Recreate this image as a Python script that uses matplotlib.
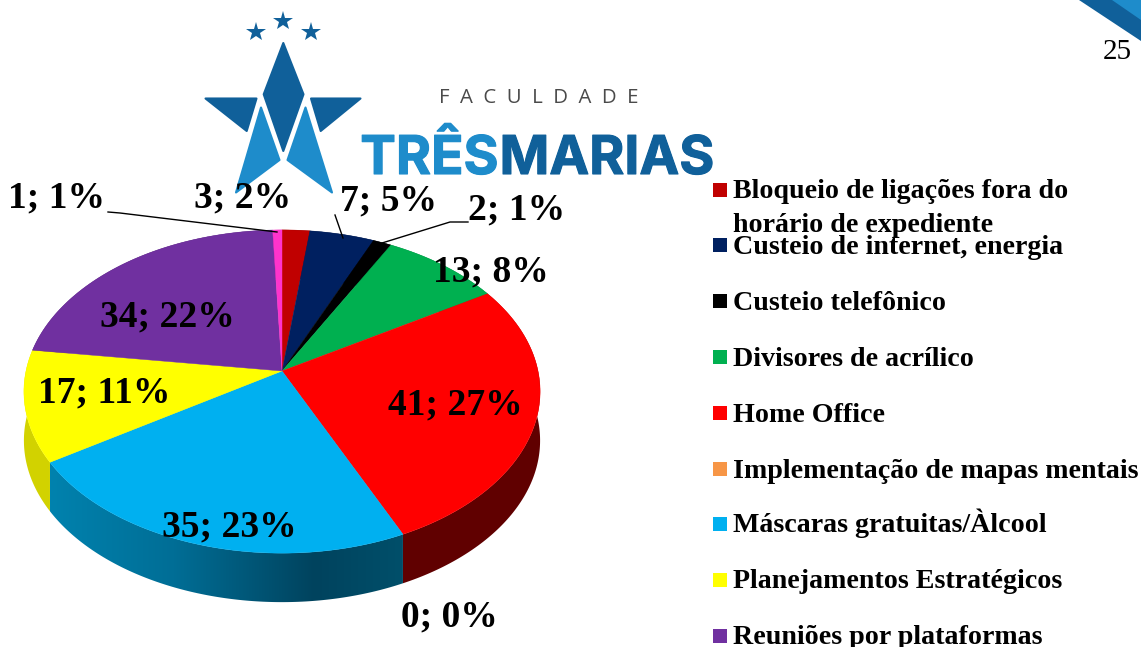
#!/usr/bin/env python
# -*- coding: utf-8 -*-

import numpy as np
import matplotlib
matplotlib.use("Agg")
import matplotlib.pyplot as plt
import matplotlib.patheffects as pe
from matplotlib.colors import LinearSegmentedColormap
from matplotlib.patches import Polygon

categories = ["Bloqueio de ligações fora do\nhorário de expediente", "Custeio de internet, energia",
	"Custeio telefônico", "Divisores de acrílico", "Home Office", "Implementação de mapas mentais",
	"Máscaras gratuitas/Àlcool", "Planejamentos Estratégicos", "Reuniões por plataformas", "Outros"]
values = [3, 7, 2, 13, 41, 0, 35, 17, 34, 1]
percents = [2, 5, 1, 8, 27, 0, 23, 11, 22, 1]
colors = ["#C00000", "#002060", "#000000", "#00B050", "#FF0000", "#F79646", "#00B0F0", "#FFFF00", "#7030A0", "#FF33CC"]
wall_colors = ["#600000", "#001030", "#000000", "#005828", "#600000", "#7B4B23", "#006080", "#D2D200", "#381850", "#801966"]

label_x = [243, 388, 517, 491, 455, 449, 229, 104, 167, 57]
label_y = [198, 201, 210, 272, 405, 617, 527, 393, 317, 198]
legend_y = [190, 245, 301, 357, 413, 469, 524, 580, 636]

CX, CY = 282, 371
RX, RY, K = 256, 159, 0.127
DEPTH = 49


def rim(theta):
	# clockwise from top, tilted circle with some perspective
	u = np.sin(theta)
	v = -np.cos(theta)
	s = 1 / (1 - K * v)
	return CX + RX * u * s, CY + RY * v * s


def draw_logo(ax):
	dark = "#10609A"
	light = "#1E8CCB"
	shapes = [
		([(283.3, 43), (303.5, 94.3), (283.3, 151), (263.7, 94.3)], dark),
		([(205.5, 98.5), (256.5, 98.5), (246.7, 131)], dark),
		([(311, 98.5), (360.5, 98.5), (320.7, 131)], dark),
		([(261, 107.5), (279.5, 160), (236, 192.5)], light),
		([(305.5, 107.5), (287.5, 160), (332, 192.5)], light),
	]
	for pts, col in shapes:
		ax.add_patch(Polygon(pts, fc=col, ec=col, lw=1.5, joinstyle="round", zorder=1))
	for x, y in [(256, 31.5), (283.3, 21), (310.7, 31.5)]:
		ax.plot(x, y, marker="*", ms=15, color=dark, mew=0, zorder=1)
	ax.text(538.5, 98, "F  A  C  U  L  D  A  D  E", family="Open Sans", fontsize=14.7, color="#4A4A4A", ha="center", va="center", zorder=1)
	stroke = [pe.withStroke(linewidth=0.8, foreground=light)]
	ax.text(498.5, 174, "TRÊS", family="Inter", weight="bold", fontsize=38.5, color=light, ha="right", va="baseline", zorder=1, path_effects=stroke)
	stroke = [pe.withStroke(linewidth=0.8, foreground=dark)]
	ax.text(499.5, 174, "MARIAS", family="Inter", weight="bold", fontsize=38.5, color=dark, ha="left", va="baseline", zorder=1, path_effects=stroke)
	ax.add_patch(Polygon([(1079, 0), (1141, 0), (1141, 41)], fc=dark, ec="none", zorder=1))
	ax.add_patch(Polygon([(1112, 0), (1141, 0), (1141, 20)], fc=light, ec="none", zorder=1))
	ax.text(1117, 52, "25", family="Liberation Serif", fontsize=21, color="black", ha="center", va="center")


def draw_pie(ax):
	total = sum(values)
	edges = np.cumsum([0] + values) / total * 2 * np.pi
	# side walls first, the top surface covers the ones at the back
	for i in range(len(values)):
		if values[i] == 0:
			continue
		t = np.linspace(edges[i], edges[i + 1], 120)
		x, y = rim(t)
		wall = np.r_[np.c_[x, y], np.c_[x, y + DEPTH][::-1]]
		if categories[i].startswith("Máscaras"):
			cmap = LinearSegmentedColormap.from_list("wall", [(0, "#0082AE"), (0.35, "#006E96"), (0.75, "#00435E"), (1, "#004F6A")])
			patch = Polygon(wall, fc="none", ec="none", zorder=2)
			ax.add_patch(patch)
			im = ax.imshow(np.linspace(0, 1, 256)[None, :], cmap=cmap, aspect="auto", zorder=2,
				extent=[x.min(), x.max(), 647, 0])
			im.set_clip_path(patch)
		else:
			ax.add_patch(Polygon(wall, fc=wall_colors[i], ec="none", zorder=2))
	for i in range(len(values)):
		if values[i] == 0:
			continue
		t = np.linspace(edges[i], edges[i + 1], 200)
		x, y = rim(t)
		pts = np.r_[[(CX, CY)], np.c_[x, y]]
		ax.add_patch(Polygon(pts, fc=colors[i], ec=colors[i], lw=0.3, zorder=3))


def draw_labels(ax):
	font = "Liberation Serif"
	for i in range(len(values)):
		ax.text(label_x[i], label_y[i], "{}; {}%".format(values[i], percents[i]), family=font, weight="bold",
			fontsize=27, ha="center", va="center", color="black", zorder=5)
	ax.plot([108, 120, 277], [212, 213, 232], color="black", lw=1, zorder=4)
	ax.plot([335, 343], [215, 238], color="black", lw=1, zorder=4)
	ax.plot([468, 450, 382], [222, 222, 243], color="black", lw=1, zorder=4)


def draw_legend(ax):
	font = "Liberation Serif"
	for i in range(len(legend_y)):
		ax.plot(720, legend_y[i], marker="s", ms=10, mew=0, color=colors[i], zorder=4)
		lines = categories[i].split("\n")
		for j in range(len(lines)):
			ax.text(733, legend_y[i] + 8.5 + j * 33, lines[j], family=font, weight="bold", fontsize=20.2,
				ha="left", va="baseline", color="black", zorder=5)


def main():
	fig = plt.figure(figsize=(11.41, 6.47), dpi=100)
	ax = fig.add_axes([0, 0, 1, 1])
	draw_logo(ax)
	draw_pie(ax)
	draw_labels(ax)
	draw_legend(ax)
	ax.set_xlim(0, 1141)
	ax.set_ylim(647, 0)
	ax.axis("off")
	fig.savefig("out.png", dpi=100)


if __name__ == '__main__':
	main()
